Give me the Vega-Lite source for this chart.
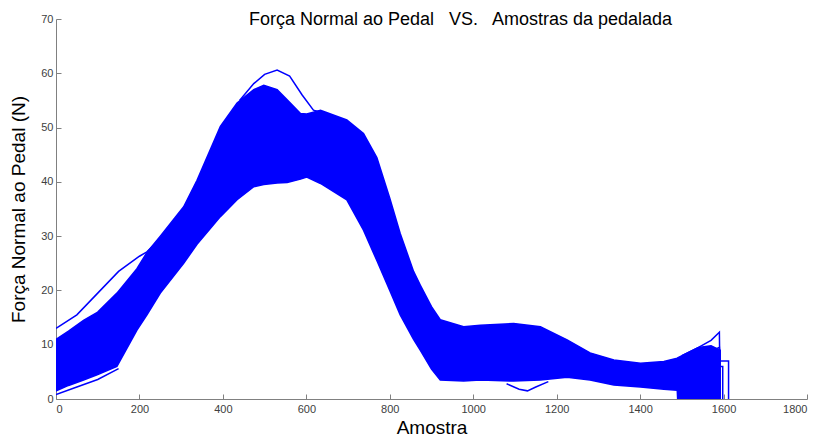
{
  "$schema": "https://vega.github.io/schema/vega-lite/v6.json",
  "width": 751,
  "height": 380,
  "autosize": {"type": "none"},
  "padding": {"left": 56, "top": 19, "right": 14, "bottom": 42},
  "background": "white",
  "title": {
    "text": "Força Normal ao Pedal\u00a0\u00a0 VS.\u00a0\u00a0 Amostras da pedalada",
    "font": "Liberation Sans",
    "fontSize": 18,
    "fontWeight": "normal",
    "color": "#000000",
    "anchor": "middle",
    "dx": 29,
    "offset": -16
  },
  "config": {
    "view": {"stroke": null},
    "axis": {
      "grid": false,
      "domainColor": "#808080",
      "tickColor": "#808080",
      "labelColor": "#404040",
      "labelFont": "Liberation Sans",
      "labelFontSize": 11,
      "titleFont": "Liberation Sans",
      "titleFontSize": 19,
      "titleFontWeight": "normal",
      "titleColor": "#000000",
      "tickSize": -5,
      "format": "d"
    }
  },
  "datasets": {
    "band": [
      {"x": 0, "lo": 1.5, "hi": 11},
      {"x": 30, "lo": 2.5, "hi": 12.5},
      {"x": 66, "lo": 3.5, "hi": 14.5},
      {"x": 100, "lo": 4.5, "hi": 16},
      {"x": 146, "lo": 6, "hi": 19.5},
      {"x": 194, "lo": 12.7, "hi": 24},
      {"x": 218, "lo": 15.5, "hi": 27},
      {"x": 250, "lo": 19.5, "hi": 30},
      {"x": 306, "lo": 25, "hi": 35.4},
      {"x": 338, "lo": 28.5, "hi": 40.3},
      {"x": 394, "lo": 33.6, "hi": 50.2},
      {"x": 434, "lo": 36.7, "hi": 54.5},
      {"x": 474, "lo": 39.1, "hi": 57},
      {"x": 498, "lo": 39.5, "hi": 57.8},
      {"x": 530, "lo": 39.8, "hi": 57},
      {"x": 554, "lo": 39.9, "hi": 55.1},
      {"x": 586, "lo": 40.5, "hi": 52.6},
      {"x": 601, "lo": 40.9, "hi": 52.5},
      {"x": 634, "lo": 39.7, "hi": 53.2},
      {"x": 697, "lo": 36.7, "hi": 51.4},
      {"x": 737, "lo": 31.1, "hi": 48.9},
      {"x": 769, "lo": 25.5, "hi": 44.5},
      {"x": 800, "lo": 20, "hi": 37},
      {"x": 825, "lo": 15.5, "hi": 30.5},
      {"x": 857, "lo": 11, "hi": 23.5},
      {"x": 873, "lo": 9, "hi": 21},
      {"x": 900, "lo": 5.5, "hi": 17},
      {"x": 921, "lo": 3.5, "hi": 14.6},
      {"x": 977, "lo": 3.3, "hi": 13.3},
      {"x": 1017, "lo": 3.5, "hi": 13.6},
      {"x": 1097, "lo": 3.3, "hi": 13.9},
      {"x": 1161, "lo": 3.5, "hi": 13.3},
      {"x": 1225, "lo": 4, "hi": 10.9},
      {"x": 1280, "lo": 3.5, "hi": 8.5},
      {"x": 1337, "lo": 2.6, "hi": 7.2},
      {"x": 1401, "lo": 2.2, "hi": 6.6},
      {"x": 1457, "lo": 1.8, "hi": 6.9},
      {"x": 1489, "lo": 1.6, "hi": 7.5},
      {"x": 1490, "lo": 0, "hi": 7.6},
      {"x": 1540, "lo": 0, "hi": 9.5},
      {"x": 1570, "lo": 0, "hi": 9.8},
      {"x": 1592, "lo": 0, "hi": 9}
    ],
    "lines": [
      {"c": "A", "i": 1, "x": 440, "y": 55},
      {"c": "A", "i": 2, "x": 474, "y": 58.1},
      {"c": "A", "i": 3, "x": 500, "y": 59.8},
      {"c": "A", "i": 4, "x": 530, "y": 60.6},
      {"c": "A", "i": 5, "x": 560, "y": 59.5},
      {"c": "A", "i": 6, "x": 590, "y": 56},
      {"c": "A", "i": 7, "x": 617, "y": 53.2},
      {"c": "A", "i": 8, "x": 650, "y": 52.5},
      {"c": "B", "i": 1, "x": 0, "y": 13},
      {"c": "B", "i": 2, "x": 50, "y": 15.5},
      {"c": "B", "i": 3, "x": 100, "y": 19.5},
      {"c": "B", "i": 4, "x": 150, "y": 23.5},
      {"c": "B", "i": 5, "x": 200, "y": 26.3},
      {"c": "B", "i": 6, "x": 218, "y": 27.1},
      {"c": "B", "i": 7, "x": 250, "y": 29.5},
      {"c": "C", "i": 1, "x": 0, "y": 0.8},
      {"c": "C", "i": 2, "x": 50, "y": 2.2},
      {"c": "C", "i": 3, "x": 100, "y": 3.6},
      {"c": "C", "i": 4, "x": 150, "y": 5.6},
      {"c": "D", "i": 1, "x": 1080, "y": 2.8},
      {"c": "D", "i": 2, "x": 1110, "y": 1.8},
      {"c": "D", "i": 3, "x": 1130, "y": 1.5},
      {"c": "D", "i": 4, "x": 1150, "y": 2.2},
      {"c": "D", "i": 5, "x": 1180, "y": 3.2},
      {"c": "E", "i": 1, "x": 1500, "y": 8},
      {"c": "E", "i": 2, "x": 1540, "y": 9.5},
      {"c": "E", "i": 3, "x": 1570, "y": 10.8},
      {"c": "E", "i": 4, "x": 1590, "y": 12.3},
      {"c": "E", "i": 5, "x": 1592, "y": 0},
      {"c": "F", "i": 1, "x": 1560, "y": 8.5},
      {"c": "F", "i": 2, "x": 1590, "y": 9.5},
      {"c": "F", "i": 3, "x": 1592, "y": 7},
      {"c": "F", "i": 4, "x": 1612, "y": 7},
      {"c": "F", "i": 5, "x": 1612, "y": 0},
      {"c": "G", "i": 1, "x": 1590, "y": 6},
      {"c": "G", "i": 2, "x": 1598, "y": 6},
      {"c": "G", "i": 3, "x": 1598, "y": 0}
    ]
  },
  "layer": [
    {
      "data": {"name": "band"},
      "mark": {"type": "area", "color": "#0000ff", "stroke": "#0000ff", "strokeWidth": 1.5, "clip": true},
      "encoding": {
        "x": {
          "field": "x", "type": "quantitative",
          "scale": {"domain": [0, 1800], "nice": false},
          "axis": {"values": [0, 200, 400, 600, 800, 1000, 1200, 1400, 1600, 1800], "title": "Amostra", "labelPadding": 9, "titlePadding": 4}
        },
        "y": {
          "field": "hi", "type": "quantitative",
          "scale": {"domain": [0, 70], "nice": false},
          "axis": {"values": [0, 10, 20, 30, 40, 50, 60, 70], "title": "Força Normal ao Pedal (N)", "labelPadding": 8, "titlePadding": 12}
        },
        "y2": {"field": "lo"}
      }
    },
    {
      "data": {"name": "lines"},
      "mark": {"type": "line", "color": "#0000ff", "strokeWidth": 1.5, "clip": true},
      "encoding": {
        "x": {"field": "x", "type": "quantitative"},
        "y": {"field": "y", "type": "quantitative"},
        "detail": {"field": "c"},
        "order": {"field": "i"}
      }
    }
  ]
}
